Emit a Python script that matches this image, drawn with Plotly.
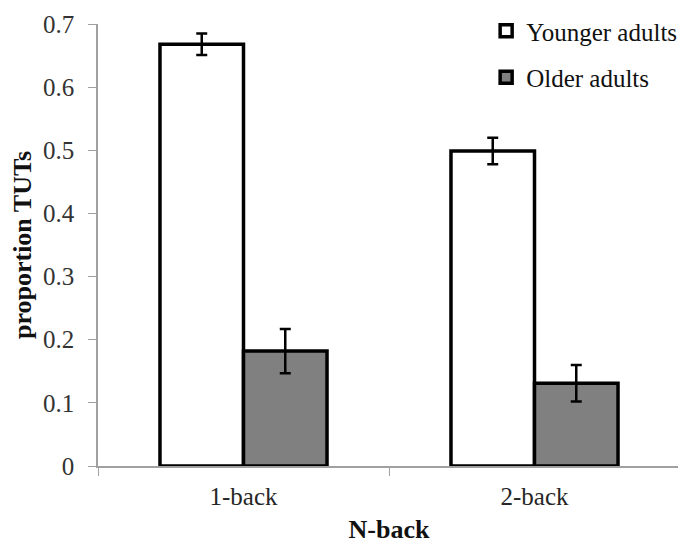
import plotly.graph_objects as go

categories = ["1-back", "2-back"]
younger = [0.668, 0.499]
younger_err = [0.017, 0.021]
older = [0.182, 0.131]
older_err = [0.035, 0.029]
y_ticks = [0, 0.1, 0.2, 0.3, 0.4, 0.5, 0.6, 0.7]
y_ticklabels = ["0", "0.1", "0.2", "0.3", "0.4", "0.5", "0.6", "0.7"]

FONT = "Liberation Serif"

fig = go.Figure()
fig.add_trace(go.Bar(
    x=categories, y=younger, name="Younger adults", legendgroup="a",
    marker=dict(color="white", line=dict(color="black", width=3.5)),
    error_y=dict(type="data", array=younger_err, color="black", thickness=2.5, width=5.5),
))
fig.add_trace(go.Bar(
    x=categories, y=older, name="Older adults", legendgroup="b",
    marker=dict(color="#808080", line=dict(color="black", width=3.5)),
    error_y=dict(type="data", array=older_err, color="black", thickness=2.5, width=5.5),
))

fig.update_layout(
    width=686, height=545,
    margin=dict(l=90, r=14, t=16, b=87, autoexpand=False),
    paper_bgcolor="white", plot_bgcolor="white",
    barmode="group", bargap=0.426, bargroupgap=0,
    font=dict(family=FONT, size=24, color="#222222"),
    showlegend=True,
    legend=dict(x=0.697, y=1.0, xref="container", yref="container",
                xanchor="left", yanchor="top",
                font=dict(family=FONT, size=25, color="#111111"),
                tracegroupgap=11, bgcolor="rgba(0,0,0,0)", itemwidth=30),
    xaxis=dict(
        automargin=False,
        showline=True, linecolor="#a0a0a0", linewidth=1.5,
        ticks="outside", tickson="boundaries", ticklen=8, tickcolor="#a0a0a0",
        ticklabelstandoff=7,
        tickfont=dict(family=FONT, size=25, color="#262626"),
        title=dict(text="<b>N-back</b>", font=dict(family=FONT, size=26, color="#111111"), standoff=11),
        showgrid=False, zeroline=False,
    ),
    yaxis=dict(
        automargin=False,
        range=[0, 0.7], tickvals=y_ticks, ticktext=y_ticklabels,
        showline=True, linecolor="#a0a0a0", linewidth=1.5,
        ticks="outside", ticklen=8, tickcolor="#a0a0a0",
        ticklabelstandoff=9,
        tickfont=dict(family=FONT, size=25, color="#333333"),
        title=dict(text="<b>proportion TUTs</b>", font=dict(family=FONT, size=26, color="#111111"), standoff=4),
        showgrid=False, zeroline=False,
    ),
)

fig.write_html("out.html")
